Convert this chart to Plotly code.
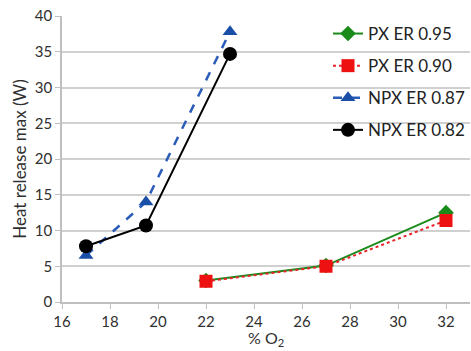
import plotly.graph_objects as go

px_x = [22, 27, 32]
px095_y = [3.0, 5.1, 12.5]
px090_y = [2.9, 5.0, 11.4]
npx_x = [17, 19.5, 23]
npx087_y = [6.5, 14.0, 37.8]
npx082_y = [7.8, 10.7, 34.7]

x_ticks = [16, 18, 20, 22, 24, 26, 28, 30, 32]
y_ticks = [0, 5, 10, 15, 20, 25, 30, 35, 40]

FONT = "Lato, Open Sans, sans-serif"

fig = go.Figure()
fig.add_trace(go.Scatter(x=px_x, y=px095_y, name="PX ER 0.95", mode="lines+markers",
                         line=dict(color="#1a8a1a", width=2),
                         marker=dict(symbol="diamond", size=12, color="#1a8a1a"),
                         legendgroup="a"))
fig.add_trace(go.Scatter(x=px_x, y=px090_y, name="PX ER 0.90", mode="lines+markers",
                         line=dict(color="#e8242a", width=2, dash="dot"),
                         marker=dict(symbol="square", size=13, color="#ee1111"),
                         legendgroup="b"))
fig.add_trace(go.Scatter(x=npx_x, y=npx087_y, name="NPX ER 0.87", mode="lines+markers",
                         line=dict(color="#2a5cb8", width=2.5, dash="dash"),
                         marker=dict(symbol="triangle-up", size=13, color="#1a4fa8"),
                         legendgroup="c"))
fig.add_trace(go.Scatter(x=npx_x, y=npx082_y, name="NPX ER 0.82", mode="lines+markers",
                         line=dict(color="#000000", width=2),
                         marker=dict(symbol="circle", size=14, color="#000000"),
                         legendgroup="d"))

fig.update_layout(
    width=471, height=351,
    margin=dict(l=62, r=1, t=16, b=49),
    paper_bgcolor="white", plot_bgcolor="white",
    font=dict(family=FONT, color="#303030"),
    showlegend=True,
    legend=dict(x=1.0, xanchor="right", y=1.0, yanchor="top",
                font=dict(size=17, color="#222222", family=FONT),
                bgcolor="rgba(255,255,255,0)", tracegroupgap=7,
                itemwidth=30),
    xaxis=dict(range=[16, 33], tickvals=x_ticks, ticktext=[str(v) for v in x_ticks],
               showgrid=False, showline=True, linecolor="#bfbfbf", linewidth=1.5,
               ticks="outside", ticklen=5, tickcolor="#bfbfbf",
               tickfont=dict(size=15, color="#303030"), zeroline=False),
    yaxis=dict(range=[0, 40], tickvals=y_ticks, showgrid=True, gridcolor="#d0d0d0", gridwidth=1.5,
               showline=True, linecolor="#bfbfbf", linewidth=1.5,
               ticks="outside", ticklen=5, tickcolor="#bfbfbf",
               tickfont=dict(size=15, color="#303030"), zeroline=False,
               title=dict(text="Heat release max (W)", font=dict(size=17, color="#303030"), standoff=4)),
    annotations=[dict(text="% O<sub>2</sub>", xref="paper", yref="paper",
                      x=0.5, y=-0.085, xanchor="center", yanchor="top", showarrow=False,
                      font=dict(size=16, color="#303030", family=FONT))],
)

fig.write_html("out.html")
